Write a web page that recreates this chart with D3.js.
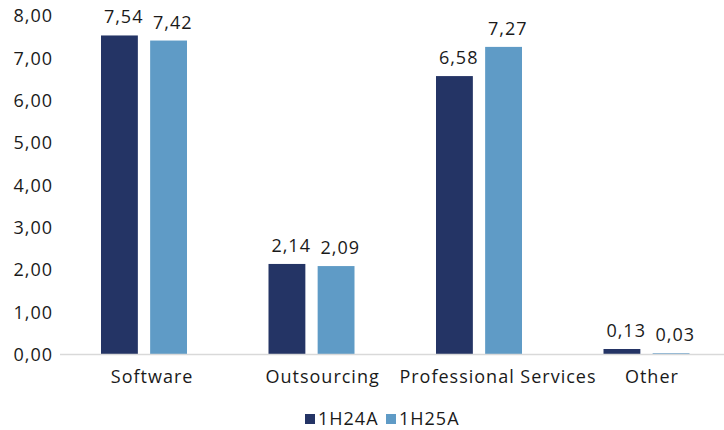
<!DOCTYPE html>
<html>
<head>
<meta charset="utf-8">
<script src="https://cdn.jsdelivr.net/npm/d3@7"></script>
<style>
  body { margin: 0; background: #fff; }
  text { font-family: "Open Sans", sans-serif; fill: #1a1a1a; letter-spacing: 1px; }
</style>
</head>
<body>
<svg id="chart" width="724" height="430"></svg>
<script>
var categories = ["Software", "Outsourcing", "Professional Services", "Other"];
var seriesNames = ["1H24A", "1H25A"];
var values1H24A = [7.54, 2.14, 6.58, 0.13];
var values1H25A = [7.42, 2.09, 7.27, 0.03];
var yTicks = [0, 1, 2, 3, 4, 5, 6, 7, 8];
var colors = ["#243465", "#5f9bc6"];

(function() {
	var svg = d3.select("#chart");
	var font = "'Open Sans', sans-serif";
	var fsize = "18px";
	var fmt = function(v) { return d3.format(".2f")(v).replace(".", ","); };
	// centred labels in the original sit a bit right of centre, in proportion to their width
	var nudge = function(sel) {
		sel.attr("dx", function() { return 0.095 * this.getComputedTextLength(); });
	};

	var x = d3.scaleBand().domain(categories).range([60, 730]);
	var x1 = d3.scaleBand().domain(seriesNames).range([41, 127]).paddingInner(0.25);
	var y = d3.scaleLinear().domain([0, 8]).range([354.5, 16]);

	// y tick labels (no axis line)
	svg.append("g").selectAll("text").data(yTicks).enter().append("text")
		.attr("x", 53).attr("y", function(d) { return y(d); })
		.attr("dy", "0.36em").attr("text-anchor", "end")
		.style("font-size", fsize).text(fmt);

	var data = categories.map(function(c, i) {
		return [
			{ cat: c, s: seriesNames[0], v: values1H24A[i], col: colors[0] },
			{ cat: c, s: seriesNames[1], v: values1H25A[i], col: colors[1] }
		];
	});

	var groups = svg.append("g").selectAll("g").data(data).enter().append("g")
		.attr("transform", function(d) { return "translate(" + x(d[0].cat) + ",0)"; });

	groups.selectAll("rect").data(function(d) { return d; }).enter().append("rect")
		.attr("x", function(d) { return x1(d.s); })
		.attr("y", function(d) { return y(d.v); })
		.attr("width", x1.bandwidth())
		.attr("height", function(d) { return y(0) - y(d.v); })
		.attr("fill", function(d) { return d.col; });

	groups.selectAll("text").data(function(d) { return d; }).enter().append("text")
		.attr("x", function(d) { return x1(d.s) + x1.bandwidth() / 2 + 0.5; })
		.attr("y", function(d) { return y(d.v) - 12; })
		.attr("text-anchor", "middle").style("font-size", fsize)
		.text(function(d) { return fmt(d.v); })
		.call(nudge);

	// baseline
	svg.append("line").attr("x1", 60).attr("x2", 724)
		.attr("y1", y(0)).attr("y2", y(0))
		.attr("stroke", "#d9d9d9").attr("stroke-width", 1.5);

	// category labels
	svg.append("g").attr("transform", "translate(0.5," + y(0) + ")")
		.call(d3.axisBottom(x).tickSize(0).tickPadding(16))
		.call(function(g) { g.select(".domain").remove(); })
		.selectAll("text").style("font-size", fsize)
		.style("font-family", font).style("letter-spacing", "1px").attr("fill", "#1a1a1a")
		.call(nudge);

	// legend
	var legendX = [305, 386];
	var legend = svg.append("g").selectAll("g").data(seriesNames).enter().append("g")
		.attr("transform", function(d, i) { return "translate(" + legendX[i] + ",414)"; });
	legend.append("rect").attr("width", 10).attr("height", 10)
		.attr("fill", function(d, i) { return colors[i]; });
	legend.append("text").attr("x", 13).attr("y", 5).attr("dy", "0.36em")
		.style("font-size", fsize).text(function(d) { return d; });
})();
</script>
</body>
</html>
